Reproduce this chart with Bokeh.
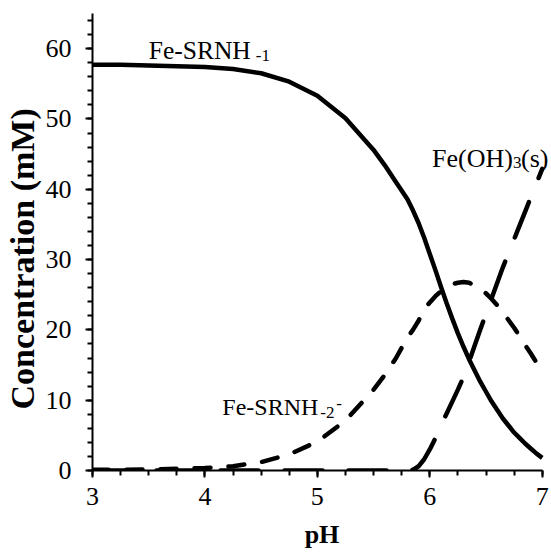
from bokeh.plotting import figure
from bokeh.models import Range1d, SingleIntervalTicker, Label, Title
from bokeh.embed import file_html
from bokeh.resources import INLINE

# pH grid and species concentrations (mM)
ph = [3.0, 3.25, 3.5, 3.75, 4.0, 4.25, 4.5, 4.75, 5.0, 5.25, 5.5, 5.6, 5.7, 5.8,
      5.85, 5.9, 5.95, 6.0, 6.05, 6.1, 6.15, 6.2, 6.25, 6.3, 6.35, 6.4, 6.45,
      6.5, 6.55, 6.6, 6.65, 6.7, 6.75, 6.8, 6.85, 6.9, 6.95, 7.0]

fe_srnh_1 = [57.7, 57.7, 57.6, 57.5, 57.4, 57.1, 56.5, 55.3, 53.3, 50.1, 45.6, 43.4,
             41.0, 38.6, 37.0, 35.2, 33.1, 30.8, 28.5, 26.1, 23.8, 21.6, 19.5, 17.6,
             15.8, 14.2, 12.6, 11.2, 9.8, 8.6, 7.4, 6.4, 5.4, 4.6, 3.8, 3.1, 2.4, 1.8]

fe_srnh_2 = [0.1, 0.1, 0.15, 0.25, 0.35, 0.6, 1.2, 2.3, 4.1, 7.1, 11.5, 13.6, 16.0,
             18.9, 20.0, 21.3, 23.0, 23.9, 24.8, 25.5, 26.1, 26.5, 26.7, 26.8, 26.7,
             26.3, 25.8, 25.2, 24.4, 23.5, 22.5, 21.4, 20.3, 19.1, 17.8, 16.6, 15.3, 14.0]

fe_oh3 = [0.0, 0.0, 0.0, 0.0, 0.0, 0.0, 0.0, 0.0, 0.0, 0.0, 0.0, 0.0, 0.0, 0.0,
          0.1, 0.6, 1.6, 3.0, 4.6, 6.4, 8.1, 9.8, 11.5, 13.3, 15.5, 17.8, 20.1,
          22.3, 24.5, 26.7, 28.9, 30.9, 32.9, 34.9, 36.9, 38.9, 40.9, 42.9]

FONT = "'Liberation Serif', 'Times New Roman', serif"

# the frame runs a little past pH 7 so the last label is not cut;
# the x axis itself stops at 7
p = figure(width=551, height=553, output_backend="svg", toolbar_location=None,
           x_range=Range1d(3, 7.0825), y_range=Range1d(0, 65),
           min_border_left=91, min_border_right=0, min_border_top=13,
           min_border_bottom=83)
p.outline_line_color = None
p.xgrid.visible = False
p.ygrid.visible = False
p.background_fill_color = "white"
p.border_fill_color = "white"

p.xaxis.ticker = SingleIntervalTicker(interval=1, num_minor_ticks=4)
p.yaxis.ticker = SingleIntervalTicker(interval=10, num_minor_ticks=5)
p.xaxis.bounds = (3, 7)

for ax in (p.xaxis[0], p.yaxis[0]):
    ax.axis_line_width = 2
    ax.axis_line_color = "black"
    ax.major_tick_line_width = 2
    ax.minor_tick_line_width = 2
    ax.major_tick_line_color = "black"
    ax.minor_tick_line_color = "black"
    ax.major_tick_in = 0
    ax.major_tick_out = 7
    ax.minor_tick_in = 0
    ax.minor_tick_out = 5
    ax.major_label_text_font = FONT
    ax.major_label_text_font_size = "26px"
    ax.major_label_text_color = "black"

p.xaxis.major_label_standoff = 10
p.yaxis.major_label_standoff = 14

p.xaxis.axis_label = "pH"
p.xaxis.axis_label_text_font = FONT
p.xaxis.axis_label_text_font_size = "26px"
p.xaxis.axis_label_text_font_style = "bold"
p.xaxis.axis_label_text_color = "black"
p.xaxis.axis_label_standoff = 12

# y-axis title, anchored from the bottom of the frame
p.add_layout(Title(text="Concentration (mM)", align="left", offset=61, standoff=3,
                   text_font=FONT, text_font_size="34px", text_font_style="bold",
                   text_color="black"), "left")

# species curves
p.line(ph, fe_oh3, line_color="black", line_width=4.5, line_dash="38 26", line_cap="round")
p.line(ph, fe_srnh_2, line_color="black", line_width=4.5, line_dash="16 18", line_cap="round")
p.line(ph, fe_srnh_1, line_color="black", line_width=4.5, line_cap="butt")


def add_text(x, y, text, dx=0, dy=0, size="25px"):
    p.add_layout(Label(x=x, y=y, x_offset=dx, y_offset=dy, text=text,
                       text_font=FONT, text_font_size=size, text_color="black",
                       text_baseline="alphabetic", text_align="left"))


# Fe-SRNH-1 label
add_text(3.50, 59.8, "Fe-SRNH", size="25.5px")
add_text(3.50, 59.8, "-1", dx=107, dy=-5, size="17px")

# Fe-SRNH-2^- label
add_text(4.155, 9.0, "Fe-SRNH", size="24px")
add_text(4.155, 9.0, "-2", dx=98, dy=-5, size="17px")
add_text(4.155, 9.0, "-", dx=114, dy=4, size="17px")

# Fe(OH)3(s) label
add_text(6.02, 44.4, "Fe(OH)", size="26px")
add_text(6.02, 44.4, "3", dx=81, dy=-4, size="17px")
add_text(6.02, 44.4, "(s)", dx=89, dy=0, size="26px")

open("out.html", "w").write(file_html(p, INLINE))
